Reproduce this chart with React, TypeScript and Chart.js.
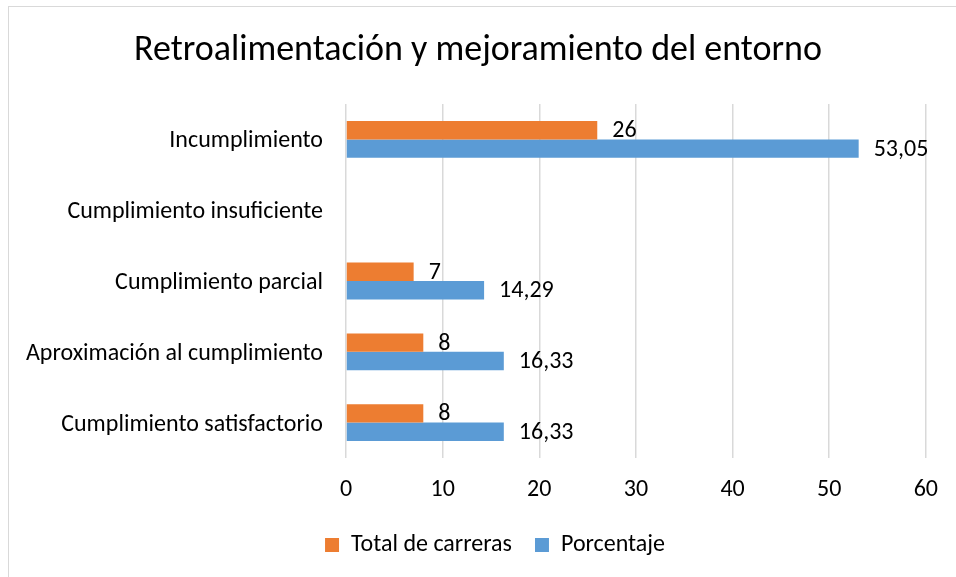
import React, { useEffect, useRef } from "react";
import { Chart, registerables } from "chart.js";

Chart.register(...registerables);

const chartTitle = "Retroalimentación y mejoramiento del entorno";
const categories = [
  "Incumplimiento",
  "Cumplimiento insuficiente",
  "Cumplimiento parcial",
  "Aproximación al cumplimiento",
  "Cumplimiento satisfactorio",
];
const seriesNames = ["Total de carreras", "Porcentaje"];
const totalCarreras: (number | null)[] = [26, null, 7, 8, 8];
const porcentaje: (number | null)[] = [53.05, null, 14.29, 16.33, 16.33];
const xMin = 0;
const xMax = 60;
const xStep = 10;

const FONT = "Carlito, Calibri, Lato, sans-serif";
const W = 956;
const H = 577;
const LEGEND_SHIFT = 31;

const fmt = (v: number) => String(v).replace(".", ",");

const decorPlugin = {
  id: "decor",
  afterLayout(chart: any) {
    const lg = chart.legend;
    if (lg) {
      lg.left += LEGEND_SHIFT;
      lg.right += LEGEND_SHIFT;
    }
  },
  beforeDraw(chart: any) {
    const ctx = chart.ctx;
    ctx.save();
    ctx.fillStyle = "#ffffff";
    ctx.fillRect(0, 0, chart.width, chart.height);
    ctx.strokeStyle = "#d9d9d9";
    ctx.lineWidth = 1;
    ctx.strokeRect(8.5, 6.5, chart.width + 200, chart.height + 200);
    ctx.fillStyle = "#000000";
    ctx.font = `36px ${FONT}`;
    ctx.textAlign = "center";
    ctx.textBaseline = "middle";
    ctx.fillText(chartTitle, chart.width / 2, 51);
    ctx.restore();
  },
  afterDatasetsDraw(chart: any) {
    const ctx = chart.ctx;
    ctx.save();
    ctx.font = `24px ${FONT}`;
    ctx.fillStyle = "#000000";
    ctx.textAlign = "left";
    ctx.textBaseline = "middle";
    chart.data.datasets.forEach((ds: any, i: number) => {
      const meta = chart.getDatasetMeta(i);
      meta.data.forEach((bar: any, j: number) => {
        const v = ds.data[j];
        if (v == null) return;
        ctx.fillText(fmt(v), bar.x + 15, bar.y + 1);
      });
    });
    ctx.restore();
  },
};

export default function App() {
  const ref = useRef<HTMLCanvasElement | null>(null);
  useEffect(() => {
    document.body.style.margin = "0";
    const canvas = ref.current;
    if (!canvas) return;
    const chart = new Chart(canvas, {
      type: "bar",
      data: {
        labels: categories,
        datasets: [
          {
            label: seriesNames[0],
            data: totalCarreras,
            backgroundColor: "#ED7D31",
            categoryPercentage: 0.52,
            barPercentage: 1,
          },
          {
            label: seriesNames[1],
            data: porcentaje,
            backgroundColor: "#5B9BD5",
            categoryPercentage: 0.52,
            barPercentage: 1,
          },
        ],
      },
      options: {
        indexAxis: "y",
        responsive: false,
        animation: false,
        layout: { padding: { top: 104, right: 28, left: 0, bottom: 10 } },
        plugins: {
          title: { display: false },
          tooltip: { enabled: false },
          legend: {
            display: true,
            position: "bottom",
            labels: {
              boxWidth: 14,
              boxHeight: 14,
              padding: 23,
              color: "#000000",
              font: { family: FONT, size: 24 },
            },
          },
        },
        scales: {
          x: {
            min: xMin,
            max: xMax,
            position: "bottom",
            ticks: {
              stepSize: xStep,
              color: "#000000",
              padding: 18,
              font: { family: FONT, size: 24 },
            },
            grid: { color: "#d9d9d9", lineWidth: 1.5, drawTicks: false },
            border: { display: false },
            afterFit: (s: any) => {
              s.height = 52;
            },
          },
          y: {
            grid: { display: false, drawTicks: false },
            border: { display: false },
            ticks: {
              color: "#000000",
              padding: 23,
              labelOffset: 2,
              font: { family: FONT, size: 24 },
            },
            afterFit: (s: any) => {
              s.width = 346;
            },
          },
        },
      },
      plugins: [decorPlugin],
    });
    return () => chart.destroy();
  }, []);
  return (
    <div style={{ position: "fixed", left: 0, top: 0, width: W, height: H }}>
      <canvas ref={ref} width={W} height={H} style={{ width: W, height: H }} />
    </div>
  );
}
